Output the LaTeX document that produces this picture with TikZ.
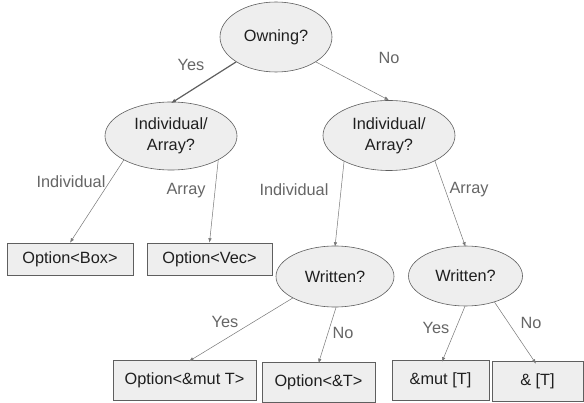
\documentclass[tikz,border=0pt]{standalone}
\usepackage{fontspec}
\setmainfont{Liberation Sans}
\usetikzlibrary{shapes.geometric,arrows.meta}
\definecolor{nodefill}{HTML}{EEEEEE}
\definecolor{nodeline}{HTML}{5F5F5F}
\definecolor{labelgray}{HTML}{666666}
\definecolor{linegray}{HTML}{777777}
\definecolor{txt}{HTML}{1F1F1F}
\tikzset{
  question/.style={ellipse, draw=nodeline, fill=nodefill, line width=0.6pt, inner sep=0pt,
    text=txt, align=center, font=\fontsize{16.3}{21}\selectfont},
  answerbox/.style={rectangle, draw=nodeline, fill=nodefill, line width=0.6pt, inner sep=0pt,
    text=txt, font=\fontsize{16.3}{20}\selectfont},
  conn/.style={draw=linegray, line width=0.5pt, -{Latex[length=4.5pt,width=3.5pt]}},
  boldconn/.style={draw=nodeline, line width=1.2pt, -{Latex[length=5pt,width=4pt]}},
  lab/.style={text=labelgray, font=\fontsize{16.3}{20}\selectfont, inner sep=0pt},
}
\begin{document}
\begin{tikzpicture}[x=1pt,y=-1pt]
\useasboundingbox (0,0) rectangle (584,403);
\fill[white] (0,0) rectangle (584,403);

% questions
\node[question, minimum width=112pt, minimum height=70pt] (own) at (276,37) {Owning?};
\node[question, minimum width=132pt, minimum height=68pt] (ia1) at (171,136) {Individual/\\Array?};
\node[question, minimum width=132pt, minimum height=70pt] (ia2) at (389,135.5) {Individual/\\Array?};
\node[question, minimum width=118pt, minimum height=61pt] (wl) at (335,276.5) {Written?};
\node[question, minimum width=114pt, minimum height=60pt] (wr) at (465.5,276) {Written?};

% answers
\node[answerbox, minimum width=126pt, minimum height=32pt] (obox) at (70,259) {Option<Box>};
\node[answerbox, minimum width=125pt, minimum height=32pt] (ovec) at (209.5,259) {Option<Vec>};
\node[answerbox, minimum width=143pt, minimum height=40pt] (omut) at (184.5,380) {Option<\&mut T>};
\node[answerbox, minimum width=113pt, minimum height=40pt] (oref) at (318.5,382) {Option<\&T>};
\node[answerbox, minimum width=97pt, minimum height=40pt] (smut) at (440.5,380) {\&mut [T]};
\node[answerbox, minimum width=91pt, minimum height=40pt] (sref) at (537.5,381) {\& [T]};

% connectors
\draw[boldconn] (own.212) -- ([yshift=-1.5pt]ia1.north);
\draw[conn] (own.328) -- (ia2.north);
\draw[conn] (ia1.207) -- (obox.north);
\draw[conn] (ia1.333) -- (ovec.north);
\draw[conn] (ia2.210) -- ([yshift=-1pt]wl.north);
\draw[conn] (ia2.331) -- ([yshift=-1pt]wr.north);
\draw[conn] (wl.207) -- ([xshift=4.5pt,yshift=-1.5pt]omut.north);
\draw[conn] (wl.272) -- ([yshift=-1.5pt]oref.north);
\draw[conn] (wr.269) -- ([xshift=1.5pt,yshift=-2pt]smut.north);
\draw[conn] (wr.318) -- ([xshift=-1.5pt,yshift=-3pt]sref.north);

% labels
\node[lab] (l1) at (191,65) {Yes};
\node[lab] (l2) at (389,58) {No};
\node[lab] (l3) at (71,182) {Individual};
\node[lab] (l4) at (186,191) {Array};
\node[lab] (l5) at (294,190) {Individual};
\node[lab] (l6) at (469,190) {Array};
\node[lab] (l7) at (225,322) {Yes};
\node[lab] (l8) at (343,333) {No};
\node[lab] (l9) at (436,328) {Yes};
\node[lab] (l10) at (531,323) {No};
\end{tikzpicture}
\end{document}
